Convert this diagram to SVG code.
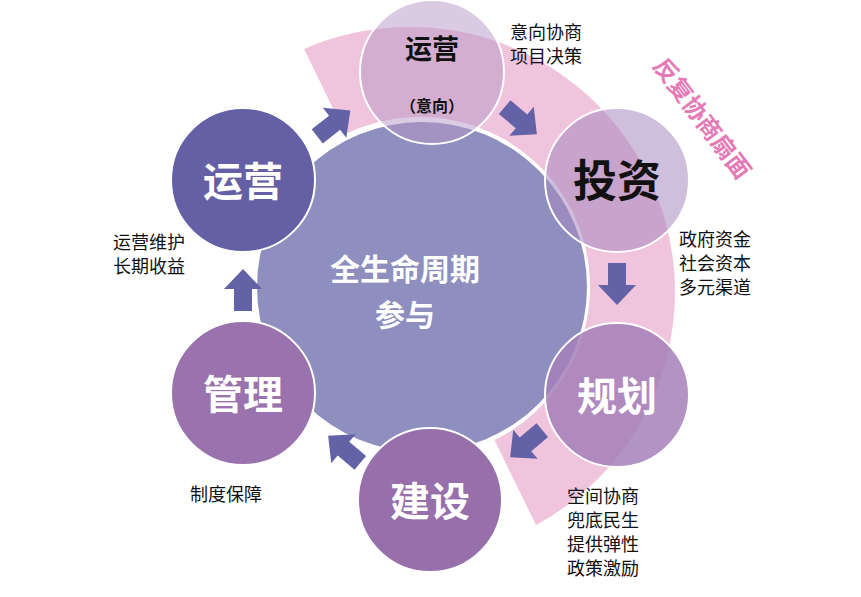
<svg xmlns="http://www.w3.org/2000/svg" width="861" height="597" viewBox="0 0 861 597">
<defs>
<style>
text{font-family:"Noto Sans CJK SC","Liberation Sans",sans-serif;}
.big{font-size:40px;font-weight:bold;fill:#fff;text-anchor:middle;}
.lbl{font-size:18px;fill:#111;}
.arr{fill:#6462a6;}
.ring{stroke:#fff;stroke-width:2;}
</style>
<polygon id="ar" points="-20,-9 2,-9 2,-19 22,0 2,19 2,9 -20,9"/>
</defs>
<rect width="861" height="597" fill="#fff"/>
<g id="fan">
<path d="M304,49 A265,265 0 0 1 536,525 L494.5,440 A170,170 0 0 0 345.5,134 Z" fill="#f0c4dc"/>
<text x="0" y="0" transform="translate(652,66) rotate(53)" font-size="24" font-weight="bold" fill="#e47ab6">反复协商扇面</text>
</g>
<g id="center">
<circle cx="422" cy="287" r="165" fill="#8e8fbf"/>
<text x="405" y="280" font-size="30" font-weight="bold" fill="#fff" text-anchor="middle">全生命周期</text>
<text x="405" y="326" font-size="30" font-weight="bold" fill="#fff" text-anchor="middle">参与</text>
</g>
<g id="connectors">
<use href="#ar" class="arr" transform="translate(333,124) rotate(-38)"/>
<use href="#ar" class="arr" transform="translate(520,120) rotate(40)"/>
<use href="#ar" class="arr" transform="translate(617,283) rotate(90)"/>
<use href="#ar" class="arr" transform="translate(527,443) rotate(140)"/>
<use href="#ar" class="arr" transform="translate(345,450) rotate(-140)"/>
<use href="#ar" class="arr" transform="translate(243,291) rotate(-90)"/>
</g>
<g id="n-yy-top">
<circle cx="432" cy="72" r="72" fill="#b597c6" fill-opacity="0.5" class="ring"/>
<text x="432" y="59" font-size="27" font-weight="bold" fill="#111" text-anchor="middle">运营</text>
<text x="432" y="112" font-size="16" font-weight="bold" fill="#111" text-anchor="middle">（意向）</text>
</g>
<g id="n-tz">
<circle cx="617" cy="180" r="72" fill="#a888c0" fill-opacity="0.55" class="ring"/>
<text x="617" y="197" font-size="44" font-weight="bold" fill="#111" text-anchor="middle">投资</text>
</g>
<g id="n-gh">
<circle cx="617" cy="395" r="72" fill="#a480b8" fill-opacity="0.85" class="ring"/>
<text x="617" y="411" class="big">规划</text>
</g>
<g id="n-js">
<circle cx="430" cy="500" r="72" fill="#976fab" class="ring"/>
<text x="430" y="516" class="big">建设</text>
</g>
<g id="n-gl">
<circle cx="243" cy="393" r="72" fill="#9a72ad" class="ring"/>
<text x="243" y="409" class="big">管理</text>
</g>
<g id="n-yy">
<circle cx="243" cy="180" r="72" fill="#6560a5" class="ring"/>
<text x="243" y="196" class="big">运营</text>
</g>
<g id="labels">
<text class="lbl" x="510" y="39">意向协商</text>
<text class="lbl" x="510" y="63">项目决策</text>
<text class="lbl" x="679" y="246">政府资金</text>
<text class="lbl" x="679" y="270">社会资本</text>
<text class="lbl" x="679" y="294">多元渠道</text>
<text class="lbl" x="113" y="249">运营维护</text>
<text class="lbl" x="113" y="273">长期收益</text>
<text class="lbl" x="190" y="501">制度保障</text>
<text class="lbl" x="567" y="503">空间协商</text>
<text class="lbl" x="567" y="527">兜底民生</text>
<text class="lbl" x="567" y="551">提供弹性</text>
<text class="lbl" x="567" y="575">政策激励</text>
</g>
</svg>
